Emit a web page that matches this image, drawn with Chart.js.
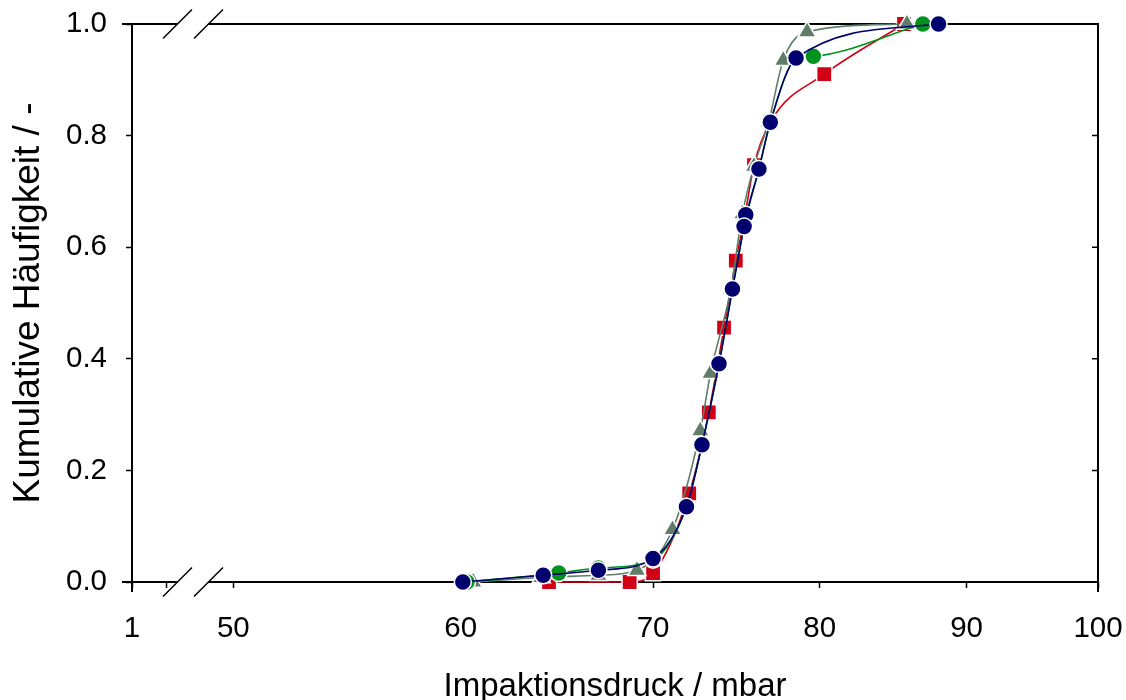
<!DOCTYPE html>
<html>
<head>
<meta charset="utf-8">
<script src="https://cdn.jsdelivr.net/npm/chart.js@4"></script>
<style>
  html, body { margin: 0; padding: 0; background: #fff; }
  #wrap { width: 1126px; height: 700px; }
</style>
</head>
<body>
<div id="wrap"><canvas id="c" width="1126" height="700"></canvas></div>
<script>
// ---- data ----
const X_TICKS = [46.1, 47.4, 50, 60, 70, 80, 90, 100];
const X_TICK_LABELS = ['1', '', '50', '60', '70', '80', '90', '100'];
const Y_TICKS = [0, 0.2, 0.4, 0.6, 0.8, 1.0];

const navyX = [60.1, 64.1, 67.0, 70.0, 71.9, 72.8, 73.8, 74.6, 75.4, 75.3, 76.2, 76.9, 78.5, 88.0];
const navyY = [0.0, 0.012, 0.021, 0.042, 0.135, 0.246, 0.391, 0.525, 0.658, 0.637, 0.740, 0.824, 0.939, 1.0];

const greenX = [60.3, 64.9, 67.0, 70.0, 71.9, 72.8, 73.8, 74.6, 75.3, 76.2, 76.9, 78.5, 79.6, 86.9];
const greenY = [0.0, 0.016, 0.025, 0.040, 0.135, 0.246, 0.391, 0.525, 0.637, 0.740, 0.824, 0.937, 0.942, 1.0];

const grayX = [60.6, 64.0, 67.0, 69.1, 71.1, 72.7, 73.3, 74.5, 75.2, 75.9, 76.8, 77.7, 79.2, 85.8];
const grayY = [0.0, 0.008, 0.012, 0.021, 0.094, 0.271, 0.374, 0.525, 0.66, 0.745, 0.825, 0.935, 0.986, 1.0];

const redX = [64.4, 68.7, 70.0, 72.06, 73.2, 74.1, 74.8, 75.3, 75.9, 76.9, 80.3, 85.6];
const redY = [0.0, 0.0, 0.016, 0.159, 0.304, 0.456, 0.576, 0.648, 0.747, 0.824, 0.91, 1.0];

const pts = (xs, ys) => xs.map((x, i) => ({ x: x, y: ys[i] }));

const FONT = "'Liberation Sans', Arial, sans-serif";

const framePlugin = {
  id: 'frame',
  beforeDatasetsDraw(chart) {
    const { ctx, chartArea: { left, right, top, bottom } } = chart;
    const ys = chart.scales.y;
    const ext = 10, g1 = left + 45.5, g2 = left + 76.5;
    ctx.save();
    ctx.strokeStyle = '#000';
    ctx.lineCap = 'butt';
    ctx.lineWidth = 2;
    ctx.beginPath();
    [top, bottom].forEach(y => {
      ctx.moveTo(left - ext, y); ctx.lineTo(g1, y);
      ctx.moveTo(g2, y); ctx.lineTo(right, y);
    });
    ctx.moveTo(left, top - 1); ctx.lineTo(left, bottom + ext);
    ctx.moveTo(right, top - 1); ctx.lineTo(right, bottom + ext);
    ctx.stroke();
    ctx.lineWidth = 1.5;
    ctx.beginPath();
    ys.ticks.forEach(t => {
      if (t.value > 0 && t.value < 1) {
        const p = ys.getPixelForValue(t.value);
        ctx.moveTo(right, p); ctx.lineTo(right - 6, p);
      }
    });
    [g1, g2].forEach(gx => {
      [top, bottom].forEach(y => {
        ctx.moveTo(gx - 14.5, y + 14.5);
        ctx.lineTo(gx + 14.5, y - 14.5);
      });
    });
    ctx.stroke();
    ctx.restore();
  }
};

const common = { showLine: true, cubicInterpolationMode: 'monotone', borderWidth: 1.6,
                 pointBorderColor: '#fff', pointBorderWidth: 1.5, clip: false };

new Chart(document.getElementById('c'), {
  type: 'scatter',
  data: {
    datasets: [
      Object.assign({ label: 'navy', data: pts(navyX, navyY), borderColor: 'rgb(0,0,110)',
        pointBackgroundColor: 'rgb(0,0,110)', pointStyle: 'circle', pointRadius: 8.5 }, common),
      Object.assign({ label: 'green', data: pts(greenX, greenY), borderColor: 'rgb(0,145,30)',
        pointBackgroundColor: 'rgb(0,145,30)', pointStyle: 'circle', pointRadius: 8.5 }, common),
      Object.assign({ label: 'gray', data: pts(grayX, grayY), borderColor: 'rgb(95,125,105)',
        pointBackgroundColor: 'rgb(95,125,105)', pointStyle: 'triangle', pointRadius: 10.5 }, common),
      Object.assign({ label: 'red', data: pts(redX, redY), borderColor: 'rgb(210,0,20)',
        pointBackgroundColor: 'rgb(210,0,20)', pointStyle: 'rect', pointRadius: 10.8 }, common)
    ]
  },
  options: {
    responsive: false,
    animation: false,
    layout: { autoPadding: false, padding: { top: 24, right: 28, left: 0, bottom: 0 } },
    plugins: { legend: { display: false }, tooltip: { enabled: false } },
    scales: {
      x: {
        type: 'logarithmic',
        min: X_TICKS[0], max: 100,
        afterBuildTicks: s => { s.ticks = X_TICKS.map(v => ({ value: v })); },
        afterFit: s => { s.height = 118; s.paddingLeft = 0; s.paddingRight = 0; },
        border: { display: false },
        grid: { drawOnChartArea: false, drawTicks: true, tickLength: 6, tickColor: '#000', tickWidth: 1.5 },
        ticks: {
          autoSkip: false, maxRotation: 0, padding: 23, color: '#000',
          font: { family: FONT, size: 29.5 },
          callback: (v, i) => X_TICK_LABELS[i]
        },
        title: { display: true, text: 'Impaktionsdruck / mbar', color: '#000',
                 font: { family: FONT, size: 33 }, padding: { top: 0, bottom: -7 } }
      },
      y: {
        min: 0, max: 1,
        afterBuildTicks: s => { s.ticks = Y_TICKS.map(v => ({ value: v })); },
        afterFit: s => { s.width = 132; s.paddingTop = 0; s.paddingBottom = 0; },
        border: { display: false },
        grid: { drawOnChartArea: false, drawTicks: true, tickLength: 6, tickColor: '#000', tickWidth: 1.5 },
        ticks: {
          padding: 19, color: '#000',
          font: { family: FONT, size: 29.5 },
          callback: v => Number(v).toFixed(1)
        },
        title: { display: true, text: 'Kumulative Häufigkeit / -', color: '#000',
                 font: { family: FONT, size: 37 }, padding: { top: 7, bottom: 0 } }
      }
    }
  },
  plugins: [framePlugin]
});
</script>
</body>
</html>
